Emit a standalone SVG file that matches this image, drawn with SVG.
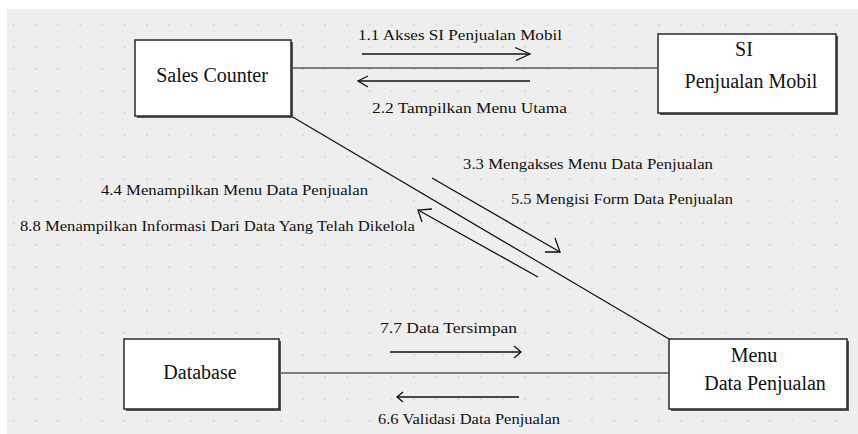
<svg xmlns="http://www.w3.org/2000/svg" width="858" height="434" viewBox="0 0 858 434">
<style>
.box{fill:#ffffff;stroke:#2a2a2a;stroke-width:1.5}
.shadow{fill:#555555}
.node{font-family:'Liberation Serif','Times New Roman',serif;font-size:20px;fill:#111111;text-anchor:middle}
.lbl{font-family:'Liberation Serif','Times New Roman',serif;font-size:14px;fill:#111111}
.ln{stroke:#111111;stroke-width:1.2;fill:none}
.ar{stroke:#111111;stroke-width:1.3;fill:none}
</style>
<defs>
<pattern id="dots" x="2" y="14" width="22.25" height="22" patternUnits="userSpaceOnUse">
<rect x="10.6" y="10.3" width="1.6" height="1.6" fill="#cdcdcd"/>
</pattern>
</defs>
<rect x="0" y="0" width="858" height="434" fill="#ffffff"/>
<rect x="7" y="9" width="851" height="425" fill="#eeeeee"/>
<rect x="7" y="9" width="851" height="425" fill="url(#dots)"/>

<g id="connectors">
<line class="ln" x1="291" y1="68" x2="657" y2="68"/>
<line class="ln" x1="291" y1="116" x2="669" y2="339"/>
<line class="ln" x1="279" y1="373" x2="669" y2="373"/>
<line class="ar" x1="362" y1="54" x2="530" y2="54"/>
<polyline class="ar" points="515,47.5 530,54 516,60.5"/>
<text class="lbl" x="358" y="40" textLength="204" lengthAdjust="spacingAndGlyphs">1.1 Akses SI  Penjualan Mobil</text>
<line class="ar" x1="358" y1="81" x2="530" y2="81"/>
<polyline class="ar" points="368,76 358,81 368,87"/>
<text class="lbl" x="372" y="113" textLength="195" lengthAdjust="spacingAndGlyphs">2.2  Tampilkan Menu Utama</text>
<line class="ar" x1="432" y1="178" x2="560" y2="252"/>
<polyline class="ar" points="555,238 560,252 545,252"/>
<text class="lbl" x="463" y="169" textLength="250" lengthAdjust="spacingAndGlyphs">3.3  Mengakses Menu Data Penjualan</text>
<text class="lbl" x="511" y="204" textLength="222" lengthAdjust="spacingAndGlyphs">5.5 Mengisi Form Data Penjualan</text>
<line class="ar" x1="538" y1="277" x2="418" y2="210"/>
<polyline class="ar" points="432,209 418,210 422,222"/>
<text class="lbl" x="101" y="195" textLength="267" lengthAdjust="spacingAndGlyphs">4.4 Menampilkan Menu Data Penjualan</text>
<text class="lbl" x="20" y="231" textLength="395" lengthAdjust="spacingAndGlyphs">8.8 Menampilkan Informasi Dari Data Yang Telah Dikelola</text>
<line class="ar" x1="390" y1="352" x2="521" y2="352"/>
<polyline class="ar" points="514,346 521,352 514,358"/>
<text class="lbl" x="380" y="333" textLength="137" lengthAdjust="spacingAndGlyphs">7.7 Data Tersimpan</text>
<line class="ar" x1="397" y1="397" x2="519" y2="397"/>
<polyline class="ar" points="403,392 397,397 403,402"/>
<text class="lbl" x="378" y="424" textLength="182" lengthAdjust="spacingAndGlyphs">6.6 Validasi Data Penjualan</text>
</g>

<g id="sales-counter">
<rect class="shadow" x="137" y="42" width="156" height="76"/>
<rect class="box" x="135" y="40" width="156" height="76"/>
<text class="node" x="212" y="82">Sales Counter</text>
</g>
<g id="si-penjualan-mobil">
<rect class="shadow" x="660" y="36" width="178" height="79"/>
<rect class="box" x="658" y="34" width="178" height="79"/>
<text class="node" x="744" y="56">SI</text>
<text class="node" x="751" y="88">Penjualan Mobil</text>
</g>
<g id="database">
<rect class="shadow" x="126" y="341" width="155" height="70"/>
<rect class="box" x="124" y="339" width="155" height="70"/>
<text class="node" x="200" y="379">Database</text>
</g>
<g id="menu-data-penjualan">
<rect class="shadow" x="671" y="341" width="178" height="70"/>
<rect class="box" x="669" y="339" width="178" height="70"/>
<text class="node" x="754" y="362">Menu</text>
<text class="node" x="765" y="390">Data Penjualan</text>
</g>
</svg>
